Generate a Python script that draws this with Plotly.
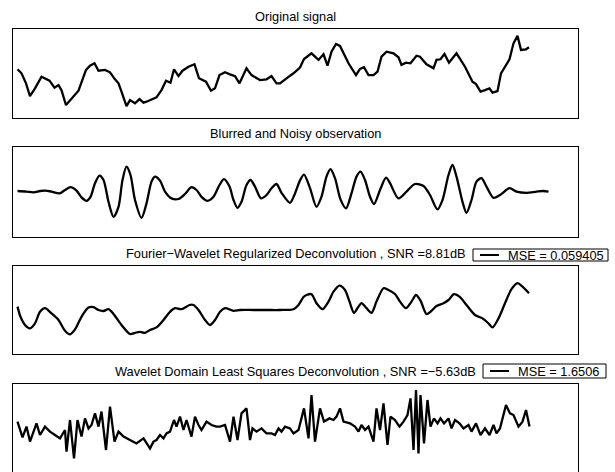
import plotly.graph_objects as go

W, H = 615, 472

# ---------------- data (sample index t, amplitude y) ----------------
orig_t = [1, 9, 18, 26, 36, 49, 65, 75, 83, 89, 98, 109, 123, 138, 146, 155, 163, 176, 186, 196,
          203, 209, 219, 226, 231, 236, 245, 253, 259, 269, 279, 289, 298, 307, 314, 323, 331, 343,
          355, 364, 378, 388, 396, 405, 416, 426, 436, 445, 459, 469, 486, 499, 509, 519, 526, 539,
          553, 566, 574, 589, 603, 613, 621, 629, 638, 646, 663, 678, 686, 694, 703, 713, 721, 729,
          739, 753, 763, 769, 778, 787, 799, 806, 819, 833, 839, 847, 855, 864, 879, 896, 911, 918,
          927, 936, 945, 951, 961, 968, 976, 985, 993, 1001, 1008, 1018, 1024]
orig_y = [0.21, 0.01, -0.49, -1.13, -0.74, -0.16, -0.36, -0.71, -0.58, -0.83, -1.58, -1.24, -0.86,
          0.18, 0.39, 0.51, 0.14, 0.18, 0.06, -0.29, -0.49, -0.91, -1.63, -1.33, -1.41, -1.49, -1.28,
          -1.46, -1.41, -1.28, -1.19, -0.83, -0.36, -0.46, 0.21, -0.13, 0.14, 0.34, 0.46, -0.24,
          -0.41, -0.86, -0.74, -0.08, 0.06, -0.04, -0.13, -0.49, 0.26, -0.08, -0.33, -0.29, -0.13,
          -0.49, -0.49, -0.24, 0.01, 0.30, 0.72, 1.01, 0.68, 0.96, 0.39, 1.09, 1.48, 1.38, 0.51,
          -0.08, 0.23, 0.31, -0.08, -0.08, 0.09, 0.84, 1.09, 1.01, 0.81, 0.43, 0.54, 0.51, 0.89,
          0.84, 0.46, 0.26, 0.68, 0.71, 0.98, 0.54, 1.01, 0.34, -0.41, -0.53, -0.91, -0.83, -0.74,
          -0.96, -0.88, 0.01, 0.34, 0.71, 1.51, 1.88, 1.18, 1.21, 1.31]

blur_t = [1, 19, 33, 46, 56, 69, 85, 96, 107, 119, 129, 139, 147, 156, 165, 173, 183, 193, 203,
          211, 219, 227, 236, 249, 259, 269, 276, 286, 296, 309, 323, 336, 349, 359, 369, 381, 393,
          405, 414, 425, 433, 441, 449, 459, 467, 476, 488, 499, 509, 519, 529, 546, 556, 566, 574,
          586, 599, 609, 619, 627, 636, 647, 658, 669, 679, 687, 696, 706, 714, 726, 738, 746, 763,
          779, 796, 813, 826, 841, 851, 863, 871, 879, 891, 899, 909, 919, 929, 939, 953, 966, 985,
          999, 1019, 1039, 1053, 1063]
blur_y = [0.05, 0.02, -0.02, 0.05, 0.07, 0.02, -0.07, 0.10, 0.24, 0.07, -0.27, -0.44, -0.24, 0.44,
          0.82, 0.60, -0.49, -1.24, -0.74, 0.60, 1.27, 0.85, -0.40, -1.29, -0.57, 0.52, 0.77, 0.57,
          0.02, -0.32, -0.35, -0.10, 0.24, 0.10, -0.24, -0.44, -0.24, 0.35, 0.64, 0.27, -0.40,
          -0.79, -0.49, 0.35, 0.60, 0.27, -0.32, -0.15, 0.19, 0.40, -0.04, -0.54, -0.07, 0.58, 0.87,
          0.19, -0.74, -0.24, 0.77, 1.14, 0.69, -0.37, -0.82, -0.07, 0.77, 1.02, 0.60, -0.24, -0.60,
          0.10, 0.72, 0.44, -0.32, 0.02, 0.40, 0.30, -0.15, -0.87, -0.40, 0.85, 1.35, 0.77, -0.49,
          -1.04, -0.40, 0.52, 0.69, 0.27, -0.29, -0.15, 0.19, 0.02, -0.04, 0.02, 0.05, 0.02]

fw_t = [1, 7, 16, 26, 36, 46, 56, 69, 83, 96, 106, 116, 129, 143, 153, 163, 173, 183, 193, 209,
        226, 236, 246, 256, 266, 279, 293, 306, 316, 329, 345, 353, 363, 376, 386, 396, 406, 416,
        433, 446, 473, 499, 526, 553, 563, 573, 579, 589, 599, 611, 623, 633, 645, 656, 665, 674,
        683, 689, 699, 709, 719, 733, 743, 756, 766, 778, 789, 798, 807, 819, 827, 839, 853, 863,
        874, 886, 899, 916, 931, 943, 951, 963, 976, 989, 1001, 1011, 1024]
fw_y = [0.17, -0.34, -0.75, -0.92, -0.67, -0.09, 0.09, -0.17, -0.50, -1.04, -1.22, -0.97, -0.34,
        0.12, 0.14, 0.00, -0.05, 0.04, -0.20, -0.75, -1.20, -1.14, -1.09, -1.14, -1.00, -0.87,
        -0.50, -0.09, 0.09, 0.04, 0.25, 0.25, 0.00, -0.50, -0.75, -0.50, -0.09, 0.09, -0.04, 0.00,
        0.00, 0.00, 0.00, 0.04, 0.25, 0.65, 0.75, 0.79, 0.34, 0.04, 0.42, 0.92, 1.22, 1.00, 0.42,
        -0.14, 0.17, 0.34, 0.09, -0.14, 0.42, 1.09, 1.00, 0.80, 0.42, 0.09, 0.42, 0.75, 0.47,
        -0.20, -0.09, 0.20, 0.34, 0.50, 0.79, 0.64, 0.25, -0.25, -0.42, -0.67, -0.87, -0.42, 0.34,
        1.04, 1.34, 1.17, 0.84]

wd_t = [1, 11, 19, 26, 39, 46, 56, 66, 76, 86, 96, 99, 106, 114, 121, 129, 136, 143, 149, 156,
        163, 169, 178, 186, 195, 203, 213, 226, 239, 253, 266, 273, 279, 286, 293, 299, 306, 314,
        319, 326, 333, 339, 349, 356, 363, 369, 379, 389, 399, 406, 416, 426, 433, 441, 449, 459,
        466, 471, 479, 489, 499, 509, 516, 523, 529, 536, 546, 553, 563, 574, 583, 589, 596, 606,
        614, 625, 633, 639, 646, 653, 666, 676, 683, 689, 696, 703, 713, 719, 726, 733, 741, 747,
        756, 765, 773, 781, 787, 793, 798, 803, 807, 814, 821, 827, 834, 841, 847, 854, 863, 869,
        876, 885, 893, 903, 909, 918, 927, 936, 945, 953, 959, 966, 978, 986, 993, 1003, 1011,
        1018, 1025]
wd_y = [0.42, -0.37, 0.17, -0.58, 0.33, -0.25, 0.17, -0.08, -0.25, -0.42, 0.00, -1.08, 0.50, -1.42,
        0.50, -0.33, 0.58, 0.08, 0.25, 0.83, 0.17, 0.92, -1.00, 1.17, -0.58, -0.08, -0.33, -0.50,
        -0.67, -0.42, -0.92, -0.58, -0.50, -0.25, -0.42, -0.17, -0.08, 0.50, 0.17, 0.67, 0.00,
        0.50, -0.33, 0.67, 0.25, 0.00, 0.42, 0.25, 0.17, 0.17, 0.25, -0.58, 0.67, -0.50, 0.83,
        1.08, -0.50, 0.08, -0.08, 0.08, -0.17, -0.17, -0.25, 0.08, -0.08, 0.17, 0.08, -0.17, 0.00,
        1.08, -0.42, 1.75, -0.58, 1.08, 0.42, 0.58, 0.50, 0.67, 1.08, 0.42, 0.33, 0.17, -0.08,
        0.25, 0.00, 0.17, -0.58, 1.08, 0.00, 1.33, -0.75, 0.67, 0.50, 0.17, 0.42, 0.75, 1.58,
        -1.00, 2.00, -1.17, 1.75, -0.67, 1.50, 0.17, 0.58, 0.33, 0.58, 0.33, 0.58, 0.08, 0.50,
        0.33, 0.08, 0.25, -0.08, 0.33, -0.25, 0.08, -0.25, 0.25, -0.17, 0.08, 1.25, 0.83, 0.75,
        0.17, 0.42, 1.00, 0.17]

titles = ["Original signal",
          "Blurred and Noisy observation",
          "Fourier\u2212Wavelet Regularized Deconvolution , SNR =8.81dB",
          "Wavelet Domain Least Squares Deconvolution , SNR =\u22125.63dB"]
legend_labels = [None, None, "MSE = 0.059405", "MSE = 1.6506"]

series = [(orig_t, orig_y, "linear"), (blur_t, blur_y, "spline"),
          (fw_t, fw_y, "spline"), (wd_t, wd_y, "linear")]
y_ranges = [[-2.225, 2.225], [-2.25, 2.25], [-2.2, 2.2], [-2.1, 2.3]]
x_range = [-8, 1122]

# ---------------- layout geometry (pixels) ----------------
FONT = "Liberation Sans, Arial, Helvetica, sans-serif"
FS = 12.8
ax_left, ax_right = 13, 578
panels_px = [(29, 118), (147, 237), (266, 354), (384, 472)]
title_py = [16, 133, 253, 371]
legend_boxes = [None, None, (473, 608, 249, 261), (483, 606, 364, 378)]


def fx(px):
    return px / W


def fy(py):
    return 1 - py / H


fig = go.Figure()
layout = dict(width=W, height=H, margin=dict(l=0, r=0, t=0, b=0),
              paper_bgcolor="white", plot_bgcolor="white", showlegend=False,
              font=dict(family=FONT, size=FS, color="black"))
annotations, shapes = [], []

for i, (t, y, shape) in enumerate(series):
    n = "" if i == 0 else str(i + 1)
    trace_kw = dict(x=t, y=y, mode="lines", xaxis="x" + n, yaxis="y" + n,
                    line=dict(color="black", width=2.3, shape=shape), hoverinfo="skip")
    if shape == "spline":
        trace_kw["line"]["smoothing"] = 0.8
    fig.add_trace(go.Scatter(**trace_kw))
    top, bot = panels_px[i]
    last = (i == 3)
    layout["xaxis" + n] = dict(domain=[fx(ax_left), fx(ax_right)], anchor="y" + n, range=x_range,
                               showline=True, mirror=not last, side="top" if last else "bottom",
                               linecolor="black", linewidth=1, ticks="", showticklabels=False,
                               showgrid=False, zeroline=False, fixedrange=True)
    layout["yaxis" + n] = dict(domain=[fy(bot), fy(top)], anchor="x" + n, range=y_ranges[i],
                               showline=True, mirror=True, linecolor="black", linewidth=1,
                               ticks="", showticklabels=False, showgrid=False, zeroline=False,
                               fixedrange=True)
    annotations.append(dict(text=titles[i], xref="paper", yref="paper",
                            x=fx((ax_left + ax_right) / 2), y=fy(title_py[i]),
                            xanchor="center", yanchor="middle", showarrow=False,
                            font=dict(family=FONT, size=FS, color="black")))
    if legend_labels[i]:
        x0, x1, y0, y1 = legend_boxes[i]
        ym = (y0 + y1) / 2
        shapes.append(dict(type="rect", xref="paper", yref="paper",
                           x0=fx(x0), x1=fx(x1), y0=fy(y1), y1=fy(y0),
                           line=dict(color="black", width=1), fillcolor="white"))
        shapes.append(dict(type="line", xref="paper", yref="paper",
                           x0=fx(x0 + 7), x1=fx(x0 + 26), y0=fy(ym), y1=fy(ym),
                           line=dict(color="black", width=2)))
        annotations.append(dict(text=legend_labels[i], xref="paper", yref="paper",
                                x=fx(x0 + 33), y=fy(ym), xanchor="left", yanchor="middle",
                                showarrow=False, font=dict(family=FONT, size=FS, color="black")))

layout["annotations"] = annotations
layout["shapes"] = shapes
fig.update_layout(**layout)
fig.write_html("out.html", config={"displayModeBar": False},
               post_script="document.body.style.margin='0';document.body.style.overflow='hidden';")
